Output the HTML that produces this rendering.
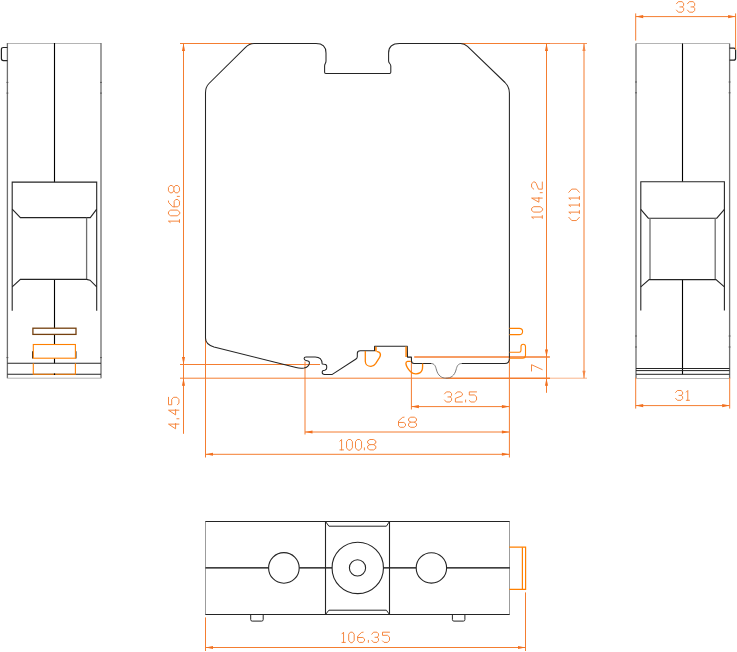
<!DOCTYPE html>
<html><head><meta charset="utf-8"><title>Dimension drawing</title>
<style>
html,body{margin:0;padding:0;background:#ffffff;}
body{width:737px;height:652px;overflow:hidden;font-family:"Liberation Sans",sans-serif;}
svg{display:block;}
</style></head><body>
<svg width="737" height="652" viewBox="0 0 737 652">
<rect x="0" y="0" width="737" height="652" fill="#ffffff"/>
<line x1="7.4" y1="43.5" x2="101.0" y2="43.5" stroke="#b4b4b4" stroke-width="1.0" />
<line x1="7.4" y1="43" x2="7.4" y2="378.3" stroke="#6e6e6e" stroke-width="1.3" />
<line x1="101.0" y1="43" x2="101.0" y2="378.3" stroke="#6e6e6e" stroke-width="1.3" />
<line x1="7.4" y1="378.2" x2="101.0" y2="378.2" stroke="#b4b4b4" stroke-width="1.0" />
<path d="M7.4,47.5 L3.4,47.5 Q1.4,47.5 1.4,49.5 L1.4,58.6 Q1.4,60.6 3.4,60.6 L7.4,60.6" stroke="#242424" stroke-width="1.2" fill="none" />
<line x1="54.5" y1="43" x2="54.5" y2="182.1" stroke="#000" stroke-width="1.12" />
<line x1="54.5" y1="279.4" x2="54.5" y2="363.4" stroke="#000" stroke-width="1.12" />
<path d="M12.2,310.7 L12.2,182.1 L96.7,182.1 L96.7,310.7" stroke="#242424" stroke-width="1.1" fill="none" />
<path d="M12.2,209.2 L20.4,217.6 L90.3,217.6 L96.7,209.2" stroke="#242424" stroke-width="1.1" fill="none" />
<line x1="86.6" y1="217.6" x2="86.6" y2="279.4" stroke="#6e6e6e" stroke-width="1.3" />
<path d="M12.2,286.8 L20.4,279.4 L86.6,279.4 L90,280.2 L96.7,286.8" stroke="#242424" stroke-width="1.1" fill="none" />
<rect x="32.9" y="328.2" width="43.1" height="6.2" fill="#fff" stroke="#74400f" stroke-width="1.3"/>
<path d="M32.6,351.3 L32.6,358.4 M75.9,351.3 L75.9,358.4" stroke="#242424" stroke-width="1.2" fill="none" />
<rect x="33.3" y="344.5" width="42.1" height="13.7" fill="#fff" stroke="#ff8000" stroke-width="1.1"/>
<line x1="7.4" y1="363.3" x2="101.0" y2="363.3" stroke="#242424" stroke-width="1.1" />
<line x1="7.4" y1="374.2" x2="101.0" y2="374.2" stroke="#242424" stroke-width="1.1" />
<path d="M33.3,363.3 L33.3,374.2 L75.4,374.2 L75.4,363.3" stroke="#ff8000" stroke-width="1.1" fill="none" />
<line x1="54.5" y1="373.4" x2="54.5" y2="375" stroke="#000" stroke-width="1.2" />
<line x1="6.5" y1="82.4" x2="8.3" y2="82.4" stroke="#555" stroke-width="1.0" />
<line x1="100.1" y1="82.4" x2="101.9" y2="82.4" stroke="#555" stroke-width="1.0" />
<line x1="6.5" y1="93.1" x2="8.3" y2="93.1" stroke="#555" stroke-width="1.0" />
<line x1="100.1" y1="93.1" x2="101.9" y2="93.1" stroke="#555" stroke-width="1.0" />
<line x1="6.5" y1="357.6" x2="8.3" y2="357.6" stroke="#555" stroke-width="1.0" />
<line x1="100.1" y1="357.6" x2="101.9" y2="357.6" stroke="#555" stroke-width="1.0" />
<line x1="636.0" y1="43.5" x2="729.6" y2="43.5" stroke="#b4b4b4" stroke-width="1.0" />
<line x1="636.0" y1="43.5" x2="636.0" y2="378.5" stroke="#6e6e6e" stroke-width="1.3" />
<line x1="729.6" y1="43.5" x2="729.6" y2="378.5" stroke="#6e6e6e" stroke-width="1.3" />
<line x1="636.0" y1="378.5" x2="729.6" y2="378.5" stroke="#b4b4b4" stroke-width="1.0" />
<path d="M729.6,48.2 L733.6,48.2 Q735.6,48.2 735.6,50.2 L735.6,58.2 Q735.6,60.2 733.6,60.2 L729.6,60.2" stroke="#242424" stroke-width="1.2" fill="none" />
<line x1="682.5" y1="43.5" x2="682.5" y2="181.7" stroke="#000" stroke-width="1.12" />
<line x1="682.5" y1="279.6" x2="682.5" y2="374.3" stroke="#000" stroke-width="1.12" />
<path d="M640.8,310.5 L640.8,181.7 L724.4,181.7 L724.4,310.5" stroke="#242424" stroke-width="1.1" fill="none" />
<path d="M640.8,209.3 L648.3,218.2 L716.8,218.2 L724.4,209.3" stroke="#242424" stroke-width="1.1" fill="none" />
<line x1="650" y1="218.2" x2="650" y2="279.6" stroke="#6e6e6e" stroke-width="1.3" />
<line x1="715.2" y1="218.2" x2="715.2" y2="279.6" stroke="#6e6e6e" stroke-width="1.3" />
<path d="M640.8,286.8 L649.1,279.6 L716,279.6 L724.4,286.8" stroke="#242424" stroke-width="1.1" fill="none" />
<line x1="636.0" y1="368.5" x2="729.6" y2="368.5" stroke="#242424" stroke-width="1.0" />
<line x1="636.0" y1="370.6" x2="729.6" y2="370.6" stroke="#242424" stroke-width="1.0" />
<line x1="636.0" y1="374.3" x2="729.6" y2="374.3" stroke="#242424" stroke-width="1.0" />
<line x1="635.1" y1="82.0" x2="636.9" y2="82.0" stroke="#555" stroke-width="1.0" />
<line x1="728.7" y1="82.0" x2="730.5" y2="82.0" stroke="#555" stroke-width="1.0" />
<line x1="635.1" y1="92.8" x2="636.9" y2="92.8" stroke="#555" stroke-width="1.0" />
<line x1="728.7" y1="92.8" x2="730.5" y2="92.8" stroke="#555" stroke-width="1.0" />
<line x1="635.1" y1="336.0" x2="636.9" y2="336.0" stroke="#555" stroke-width="1.0" />
<line x1="728.7" y1="336.0" x2="730.5" y2="336.0" stroke="#555" stroke-width="1.0" />
<line x1="635.1" y1="347.0" x2="636.9" y2="347.0" stroke="#555" stroke-width="1.0" />
<line x1="728.7" y1="347.0" x2="730.5" y2="347.0" stroke="#555" stroke-width="1.0" />
<line x1="635.7" y1="13.4" x2="635.7" y2="40.6" stroke="#f47d30" stroke-width="1.0" />
<line x1="735.6" y1="13.4" x2="735.6" y2="50" stroke="#f47d30" stroke-width="1.0" />
<line x1="635.7" y1="16.6" x2="735.6" y2="16.6" stroke="#f47d30" stroke-width="1.0" />
<polygon points="635.7,16.6 643.2,15.05 643.2,18.150000000000002" fill="#f2701f" stroke="none"/>
<polygon points="735.6,16.6 728.1,15.05 728.1,18.150000000000002" fill="#f2701f" stroke="none"/>
<line x1="635.7" y1="377.7" x2="635.7" y2="408.6" stroke="#f47d30" stroke-width="1.0" />
<line x1="729.7" y1="377.7" x2="729.7" y2="408.6" stroke="#f47d30" stroke-width="1.0" />
<line x1="635.7" y1="405.6" x2="729.7" y2="405.6" stroke="#f47d30" stroke-width="1.0" />
<polygon points="635.7,405.6 643.2,404.05 643.2,407.15000000000003" fill="#f2701f" stroke="none"/>
<polygon points="729.7,405.6 722.2,404.05 722.2,407.15000000000003" fill="#f2701f" stroke="none"/>
<line x1="180" y1="43.5" x2="252.5" y2="43.5" stroke="#f47d30" stroke-width="1.0" />
<line x1="461" y1="43.5" x2="550" y2="43.5" stroke="#f47d30" stroke-width="1.0" />
<line x1="550" y1="43.5" x2="587" y2="43.5" stroke="#f6935a" stroke-width="1.0" />
<line x1="183.5" y1="43.5" x2="183.5" y2="433.8" stroke="#f47d30" stroke-width="1.0" />
<polygon points="183.5,43.5 181.95,51.0 185.05,51.0" fill="#f2701f" stroke="none"/>
<polygon points="183.5,364.5 181.95,357.0 185.05,357.0" fill="#f2701f" stroke="none"/>
<line x1="180" y1="364.5" x2="320" y2="364.5" stroke="#f47d30" stroke-width="1.0" />
<line x1="180" y1="378.2" x2="446" y2="378.2" stroke="#f47d30" stroke-width="1.0" />
<line x1="446" y1="378.2" x2="550" y2="378.2" stroke="#f47d30" stroke-width="1.5" />
<line x1="550" y1="378.2" x2="587" y2="378.2" stroke="#f9b48a" stroke-width="1.0" />
<polygon points="183.5,378.2 181.95,385.7 185.05,385.7" fill="#f2701f" stroke="none"/>
<line x1="205.5" y1="338" x2="205.5" y2="457.5" stroke="#f47d30" stroke-width="1.0" />
<line x1="305" y1="361.5" x2="305" y2="434.5" stroke="#f47d30" stroke-width="1.0" />
<line x1="411.4" y1="357.6" x2="411.4" y2="409.5" stroke="#f47d30" stroke-width="1.0" />
<line x1="509.4" y1="357" x2="509.4" y2="457.5" stroke="#f47d30" stroke-width="1.0" />
<line x1="414.2" y1="357" x2="549.9" y2="357" stroke="#f47d30" stroke-width="1.5" />
<line x1="411.4" y1="406.6" x2="509.4" y2="406.6" stroke="#f47d30" stroke-width="1.0" />
<polygon points="411.4,406.6 418.9,405.05 418.9,408.15000000000003" fill="#f2701f" stroke="none"/>
<polygon points="509.4,406.6 501.9,405.05 501.9,408.15000000000003" fill="#f2701f" stroke="none"/>
<line x1="305" y1="432" x2="509.4" y2="432" stroke="#f47d30" stroke-width="1.0" />
<polygon points="305,432 312.5,430.45 312.5,433.55" fill="#f2701f" stroke="none"/>
<polygon points="509.4,432 501.9,430.45 501.9,433.55" fill="#f2701f" stroke="none"/>
<line x1="205.5" y1="454.3" x2="509.4" y2="454.3" stroke="#f47d30" stroke-width="1.0" />
<polygon points="205.5,454.3 213.0,452.75 213.0,455.85" fill="#f2701f" stroke="none"/>
<polygon points="509.4,454.3 501.9,452.75 501.9,455.85" fill="#f2701f" stroke="none"/>
<line x1="546.5" y1="43.5" x2="546.5" y2="392.8" stroke="#f47d30" stroke-width="1.0" />
<polygon points="546.5,43.5 544.95,51.0 548.05,51.0" fill="#f2701f" stroke="none"/>
<polygon points="546.5,357 544.95,349.5 548.05,349.5" fill="#f2701f" stroke="none"/>
<polygon points="546.5,378.2 544.95,385.7 548.05,385.7" fill="#f2701f" stroke="none"/>
<line x1="584.0" y1="43.5" x2="584.0" y2="378.2" stroke="#f47d30" stroke-width="1.0" />
<polygon points="584.0,43.5 582.45,51.0 585.55,51.0" fill="#f58a4a" stroke="none"/>
<polygon points="584.0,378.2 582.45,370.7 585.55,370.7" fill="#f58a4a" stroke="none"/>
<path d="M205.5,338 L205.5,93 Q205.5,87 209,83.5 L245,47.8 Q249.5,43.5 254,43.5 L316,43.5 Q326,43.5 326,52.9 L326,61 C326,63.5 324.6,63.5 324.6,66 L324.6,70.5 L324.6,72.3 Q324.6,73.5 325.8,73.5 L389.6,73.5 Q390.8,73.5 390.8,72.3 L390.8,66 C390.8,63.5 388.6,63.5 388.6,61 L388.6,52.9 Q388.6,43.5 399.5,43.5 L460.5,43.5 Q464.5,43.5 467.5,46.3 L505,82.5 Q509.4,87 509.4,93 L509.4,358.8 Q509.4,363.5 504.8,363.5 L462,363.5" stroke="#242424" stroke-width="1.05" fill="none" stroke-linejoin="round"/>
<path d="M462,363.5 C458,363.5 457,366 456,370 C454.5,375.5 451,378.2 446.2,378.2 C441.5,378.2 438,375.5 436.5,370 C435.5,366 434.5,363.5 431,363.5" stroke="#6e6e6e" stroke-width="0.9" fill="none" />
<path d="M431,363.5 L414.2,363.5 Q411.5,363.5 411.5,360.8 L411.4,357.1 L407.5,357.1 L407.3,346.2 L374.6,346.2 L374.5,350.7 L360.4,350.7 Q357.3,350.7 357.3,353.4 L357.3,356.6 Q357.3,358.2 356,359 L332.3,374.4 L324.6,374.4 Q322.2,374.4 322.2,372.6 L322.3,371.6 Q322.4,370.7 323.4,370.5 L324.8,370.2 Q326.7,369.6 326.7,368 L326.7,366.3 Q326.7,364.4 324.4,364.2 L322.2,363.9 Q321.9,357.06 315.2,357.06 L306,357.06 Q304.1,357.06 304.1,358.6 Q304.1,360.1 306,360.6 L308,361.1 Q309.7,361.7 309.4,363.3 Q308.7,367 304,368.1 Q300,368.7 296,367.6 L214,347 Q205.5,344.5 205.5,338" stroke="#242424" stroke-width="1.05" fill="none" stroke-linejoin="round"/>
<path d="M365.3,351 L365.3,361.5 C365.5,364.5 368,366.5 371,366.4 C373,366.3 374.5,365.2 375.6,363.6 L379.6,357.4 C380.6,355.6 380.6,353.8 379.8,352.8 C379,351.9 377.5,351.8 376.6,351.5" stroke="#ff8000" stroke-width="1.3" fill="none" />
<line x1="375.9" y1="346.8" x2="375.9" y2="351.6" stroke="#ff8000" stroke-width="1.6" />
<line x1="406.1" y1="346.6" x2="406.1" y2="357.0" stroke="#ff8a14" stroke-width="1.6" />
<path d="M410.8,361.3 L407.5,361.3 Q405.8,361.5 405.9,363.6 C406.3,366.5 408.5,369.5 410.6,371.7 C412.5,373.4 414.5,373.9 416.1,373.8 C418.5,373.8 420.9,373 421.9,370.6 C422.5,369.2 422.6,368 422.6,366.5 L422.6,363.5" stroke="#ff8000" stroke-width="1.35" fill="none" />
<path d="M509.4,328.4 L519.3,328.4 C521.5,328.4 522.6,329.8 522.6,331.5 C522.6,333.2 521.5,334.6 519.3,334.6 L509.4,334.6" stroke="#ff8000" stroke-width="1.1" fill="none" />
<path d="M509.4,352.2 L519.3,352.2 Q521,352.2 521,350.2 L521,346.5 Q521,344.3 523.2,344.3 Q525.5,344.3 525.5,346.8 L525.5,355.2 Q525.5,358.2 522.6,358.2 L509.4,358.2" stroke="#ff8000" stroke-width="1.1" fill="none" />
<line x1="205" y1="521.5" x2="510" y2="521.5" stroke="#242424" stroke-width="1.1" />
<line x1="205" y1="614.5" x2="510" y2="614.5" stroke="#242424" stroke-width="1.1" />
<line x1="205.5" y1="521.5" x2="205.5" y2="614.5" stroke="#9c9c9c" stroke-width="1.0" />
<line x1="509.5" y1="521.5" x2="509.5" y2="614.5" stroke="#9c9c9c" stroke-width="1.0" />
<line x1="205.5" y1="567.9" x2="268.6" y2="567.9" stroke="#000" stroke-width="1.12" />
<line x1="299.2" y1="567.9" x2="332.2" y2="567.9" stroke="#000" stroke-width="1.12" />
<line x1="383.3" y1="567.9" x2="416.2" y2="567.9" stroke="#000" stroke-width="1.12" />
<line x1="446.6" y1="567.9" x2="509.8" y2="567.9" stroke="#000" stroke-width="1.12" />
<circle cx="283.9" cy="567.9" r="15.3" fill="none" stroke="#242424" stroke-width="1.1"/>
<circle cx="431.4" cy="567.9" r="15.2" fill="none" stroke="#242424" stroke-width="1.1"/>
<circle cx="357.75" cy="567.9" r="25.7" fill="none" stroke="#242424" stroke-width="1.1"/>
<circle cx="357.5" cy="567.9" r="8.1" fill="none" stroke="#242424" stroke-width="1.1"/>
<line x1="325.5" y1="521.5" x2="325.5" y2="614.5" stroke="#242424" stroke-width="1.1" />
<line x1="389.5" y1="521.5" x2="389.5" y2="614.5" stroke="#242424" stroke-width="1.1" />
<path d="M325.5,521.5 L328.9,526.2 L386.4,526.2 L389.5,521.5" stroke="#242424" stroke-width="1.0" fill="none" />
<path d="M325.5,614.5 L328.9,610.2 L386.4,610.2 L389.5,614.5" stroke="#242424" stroke-width="1.0" fill="none" />
<path d="M250.7,614.5 L250.7,619.6 Q250.7,621.1 252.2,621.1 L261.7,621.1 Q263.2,621.1 263.2,619.6 L263.2,614.9" stroke="#242424" stroke-width="1.0" fill="none" />
<path d="M452.4,614.5 L452.4,619.6 Q452.4,621.1 453.9,621.1 L463.4,621.1 Q464.9,621.1 464.9,619.6 L464.9,614.9" stroke="#242424" stroke-width="1.0" fill="none" />
<path d="M509.2,547.2 L525.6,547.2 L525.6,589.3 L509.2,589.3" stroke="#ff8000" stroke-width="1.2" fill="none" />
<line x1="522.4" y1="547.2" x2="522.4" y2="589.3" stroke="#ff8000" stroke-width="1.2" />
<line x1="205.5" y1="617.4" x2="205.5" y2="651" stroke="#f47d30" stroke-width="1.0" />
<line x1="525.5" y1="592.4" x2="525.5" y2="651" stroke="#f47d30" stroke-width="1.0" />
<line x1="205.5" y1="647.5" x2="525.5" y2="647.5" stroke="#f47d30" stroke-width="1.0" />
<polygon points="205.5,647.5 213.0,645.95 213.0,649.05" fill="#f2701f" stroke="none"/>
<polygon points="525.5,647.5 518.0,645.95 518.0,649.05" fill="#f2701f" stroke="none"/>
<g fill="none" stroke="#f47d30" stroke-width="0.92" stroke-linecap="round" stroke-linejoin="round">
<path transform="matrix(7.150,0,0,-10.550,676.5,12.2)" d="M0,0.80 L0.26,1 L0.77,1 L1,0.85 L1,0.65 L0.82,0.5 L0.48,0.5 M0.82,0.5 L1,0.36 L1,0.17 L0.77,0 L0.26,0 L0,0.2" vector-effect="non-scaling-stroke"/>
<path transform="matrix(7.200,0,0,-10.550,687.5,12.2)" d="M0,0.80 L0.26,1 L0.77,1 L1,0.85 L1,0.65 L0.82,0.5 L0.48,0.5 M0.82,0.5 L1,0.36 L1,0.17 L0.77,0 L0.26,0 L0,0.2" vector-effect="non-scaling-stroke"/>
</g>
<g fill="none" stroke="#f47d30" stroke-width="0.92" stroke-linecap="round" stroke-linejoin="round">
<path transform="matrix(7.000,0,0,-9.800,675.6,400.3)" d="M0,0.80 L0.26,1 L0.77,1 L1,0.85 L1,0.65 L0.82,0.5 L0.48,0.5 M0.82,0.5 L1,0.36 L1,0.17 L0.77,0 L0.26,0 L0,0.2" vector-effect="non-scaling-stroke"/>
<path transform="matrix(3.150,0,0,-9.800,686.3,400.3)" d="M0,0.84 L0.47,1 L0.47,0 M0,0 L1,0" vector-effect="non-scaling-stroke"/>
</g>
<g fill="none" stroke="#f47d30" stroke-width="0.92" stroke-linecap="round" stroke-linejoin="round">
<path transform="matrix(7.000,0,0,-10.100,444.55,402.0)" d="M0,0.80 L0.26,1 L0.77,1 L1,0.85 L1,0.65 L0.82,0.5 L0.48,0.5 M0.82,0.5 L1,0.36 L1,0.17 L0.77,0 L0.26,0 L0,0.2" vector-effect="non-scaling-stroke"/>
<path transform="matrix(7.000,0,0,-10.100,455.4,402.0)" d="M0,0.80 L0.27,1 L0.75,1 L1,0.82 L1,0.68 L0.80,0.57 L0,0.36 L0,0 L1,0" vector-effect="non-scaling-stroke"/>
<path d="M465.6,402.0 L465.6,399.98"/>
<path transform="matrix(7.250,0,0,-10.100,469.3,402.0)" d="M1,1 L0,1 L0,0.69 L0.70,0.70 L1,0.52 L1,0.19 L0.70,0 L0.22,0 L0,0.15" vector-effect="non-scaling-stroke"/>
</g>
<g fill="none" stroke="#f47d30" stroke-width="0.92" stroke-linecap="round" stroke-linejoin="round">
<path transform="matrix(7.000,0,0,-10.100,398.5,427.3)" d="M0.80,1 L0.58,0.98 L0,0.62 L0,0.15 L0.24,0 L0.76,0 L1,0.15 L1,0.34 L0.76,0.48 L0,0.48" vector-effect="non-scaling-stroke"/>
<path transform="matrix(7.950,0,0,-10.100,408.55,427.3)" d="M0.27,0.51 L0,0.66 L0,0.85 L0.27,1 L0.73,1 L1,0.85 L1,0.66 L0.73,0.51 L0.27,0.51 L0,0.36 L0,0.15 L0.27,0 L0.73,0 L1,0.15 L1,0.36 L0.73,0.51" vector-effect="non-scaling-stroke"/>
</g>
<g fill="none" stroke="#f47d30" stroke-width="0.92" stroke-linecap="round" stroke-linejoin="round">
<path transform="matrix(3.600,0,0,-10.400,339.9,449.9)" d="M0,0.84 L0.47,1 L0.47,0 M0,0 L1,0" vector-effect="non-scaling-stroke"/>
<path transform="matrix(5.850,0,0,-10.400,346.55,449.9)" d="M0.3,0 L0,0.20 L0,0.80 L0.3,1 L0.7,1 L1,0.80 L1,0.20 L0.7,0 Z" vector-effect="non-scaling-stroke"/>
<path transform="matrix(6.050,0,0,-10.400,355.5,449.9)" d="M0.3,0 L0,0.20 L0,0.80 L0.3,1 L0.7,1 L1,0.80 L1,0.20 L0.7,0 Z" vector-effect="non-scaling-stroke"/>
<path d="M364.4,449.9 L364.4,447.82"/>
<path transform="matrix(8.150,0,0,-10.400,367.65,449.9)" d="M0.27,0.51 L0,0.66 L0,0.85 L0.27,1 L0.73,1 L1,0.85 L1,0.66 L0.73,0.51 L0.27,0.51 L0,0.36 L0,0.15 L0.27,0 L0.73,0 L1,0.15 L1,0.36 L0.73,0.51" vector-effect="non-scaling-stroke"/>
</g>
<g fill="none" stroke="#f47d30" stroke-width="0.92" stroke-linecap="round" stroke-linejoin="round">
<path transform="matrix(3.300,0,0,-10.200,342.0,642.4)" d="M0,0.84 L0.47,1 L0.47,0 M0,0 L1,0" vector-effect="non-scaling-stroke"/>
<path transform="matrix(5.500,0,0,-10.200,348.7,642.4)" d="M0.3,0 L0,0.20 L0,0.80 L0.3,1 L0.7,1 L1,0.80 L1,0.20 L0.7,0 Z" vector-effect="non-scaling-stroke"/>
<path transform="matrix(6.800,0,0,-10.200,357.7,642.4)" d="M0.80,1 L0.58,0.98 L0,0.62 L0,0.15 L0.24,0 L0.76,0 L1,0.15 L1,0.34 L0.76,0.48 L0,0.48" vector-effect="non-scaling-stroke"/>
<path d="M368.36,642.4 L368.36,640.36"/>
<path transform="matrix(6.700,0,0,-10.200,371.8,642.4)" d="M0,0.80 L0.26,1 L0.77,1 L1,0.85 L1,0.65 L0.82,0.5 L0.48,0.5 M0.82,0.5 L1,0.36 L1,0.17 L0.77,0 L0.26,0 L0,0.2" vector-effect="non-scaling-stroke"/>
<path transform="matrix(7.000,0,0,-10.200,382.5,642.4)" d="M1,1 L0,1 L0,0.69 L0.70,0.70 L1,0.52 L1,0.19 L0.70,0 L0.22,0 L0,0.15" vector-effect="non-scaling-stroke"/>
</g>
<g fill="none" stroke="#f47d30" stroke-width="0.92" stroke-linecap="round" stroke-linejoin="round">
<path transform="matrix(0,-2.900,-11.000,0,179.45,222.5)" d="M0,0.84 L0.47,1 L0.47,0 M0,0 L1,0" vector-effect="non-scaling-stroke"/>
<path transform="matrix(0,-5.700,-11.000,0,179.45,215.8)" d="M0.3,0 L0,0.20 L0,0.80 L0.3,1 L0.7,1 L1,0.80 L1,0.20 L0.7,0 Z" vector-effect="non-scaling-stroke"/>
<path transform="matrix(0,-7.300,-11.000,0,179.45,206.8)" d="M0.80,1 L0.58,0.98 L0,0.62 L0,0.15 L0.24,0 L0.76,0 L1,0.15 L1,0.34 L0.76,0.48 L0,0.48" vector-effect="non-scaling-stroke"/>
<path d="M179.45,196.36 L177.25,196.36"/>
<path transform="matrix(0,-7.300,-11.000,0,179.45,192.8)" d="M0.27,0.51 L0,0.66 L0,0.85 L0.27,1 L0.73,1 L1,0.85 L1,0.66 L0.73,0.51 L0.27,0.51 L0,0.36 L0,0.15 L0.27,0 L0.73,0 L1,0.15 L1,0.36 L0.73,0.51" vector-effect="non-scaling-stroke"/>
</g>
<g fill="none" stroke="#f47d30" stroke-width="0.92" stroke-linecap="round" stroke-linejoin="round">
<path transform="matrix(0,-2.850,-10.700,0,542.3,218.4)" d="M0,0.84 L0.47,1 L0.47,0 M0,0 L1,0" vector-effect="non-scaling-stroke"/>
<path transform="matrix(0,-5.400,-10.700,0,542.3,212.1)" d="M0.3,0 L0,0.20 L0,0.80 L0.3,1 L0.7,1 L1,0.80 L1,0.20 L0.7,0 Z" vector-effect="non-scaling-stroke"/>
<path transform="matrix(0,-4.650,-10.700,0,542.3,202.2)" d="M0.88,0 L0.88,1 L0,0.32 L1,0.32" vector-effect="non-scaling-stroke"/>
<path d="M542.3,192.68 L540.16,192.68"/>
<path transform="matrix(0,-7.150,-10.700,0,542.3,189.15)" d="M0,0.80 L0.27,1 L0.75,1 L1,0.82 L1,0.68 L0.80,0.57 L0,0.36 L0,0 L1,0" vector-effect="non-scaling-stroke"/>
</g>
<g fill="none" stroke="#f47d30" stroke-width="0.92" stroke-linecap="round" stroke-linejoin="round">
<path transform="matrix(0,-3.250,-10.600,0,579.4,220.55)" d="M1,1 L0,0.72 L0,0.28 L1,0" vector-effect="non-scaling-stroke"/>
<path transform="matrix(0,-2.900,-10.600,0,579.4,213.5)" d="M0,0.84 L0.47,1 L0.47,0 M0,0 L1,0" vector-effect="non-scaling-stroke"/>
<path transform="matrix(0,-2.850,-10.600,0,579.4,206.4)" d="M0,0.84 L0.47,1 L0.47,0 M0,0 L1,0" vector-effect="non-scaling-stroke"/>
<path transform="matrix(0,-2.900,-10.600,0,579.4,199.4)" d="M0,0.84 L0.47,1 L0.47,0 M0,0 L1,0" vector-effect="non-scaling-stroke"/>
<path transform="matrix(0,-3.200,-10.600,0,579.4,192.3)" d="M0,1 L1,0.72 L1,0.28 L0,0" vector-effect="non-scaling-stroke"/>
</g>
<g fill="none" stroke="#f47d30" stroke-width="0.92" stroke-linecap="round" stroke-linejoin="round">
<path transform="matrix(0,-5.300,-10.450,0,178.95,428.8)" d="M0.88,0 L0.88,1 L0,0.32 L1,0.32" vector-effect="non-scaling-stroke"/>
<path d="M178.95,418.76 L176.86,418.76"/>
<path transform="matrix(0,-5.350,-10.450,0,178.95,414.9)" d="M0.88,0 L0.88,1 L0,0.32 L1,0.32" vector-effect="non-scaling-stroke"/>
<path transform="matrix(0,-7.450,-10.450,0,178.95,404.75)" d="M1,1 L0,1 L0,0.69 L0.70,0.70 L1,0.52 L1,0.19 L0.70,0 L0.22,0 L0,0.15" vector-effect="non-scaling-stroke"/>
</g>
<g fill="none" stroke="#f47d30" stroke-width="0.92" stroke-linecap="round" stroke-linejoin="round">
<path transform="matrix(0,-6.350,-10.700,0,542.2,371.05)" d="M0,1 L1,1 L0.23,0" vector-effect="non-scaling-stroke"/>
</g>
</svg>
</body></html>
